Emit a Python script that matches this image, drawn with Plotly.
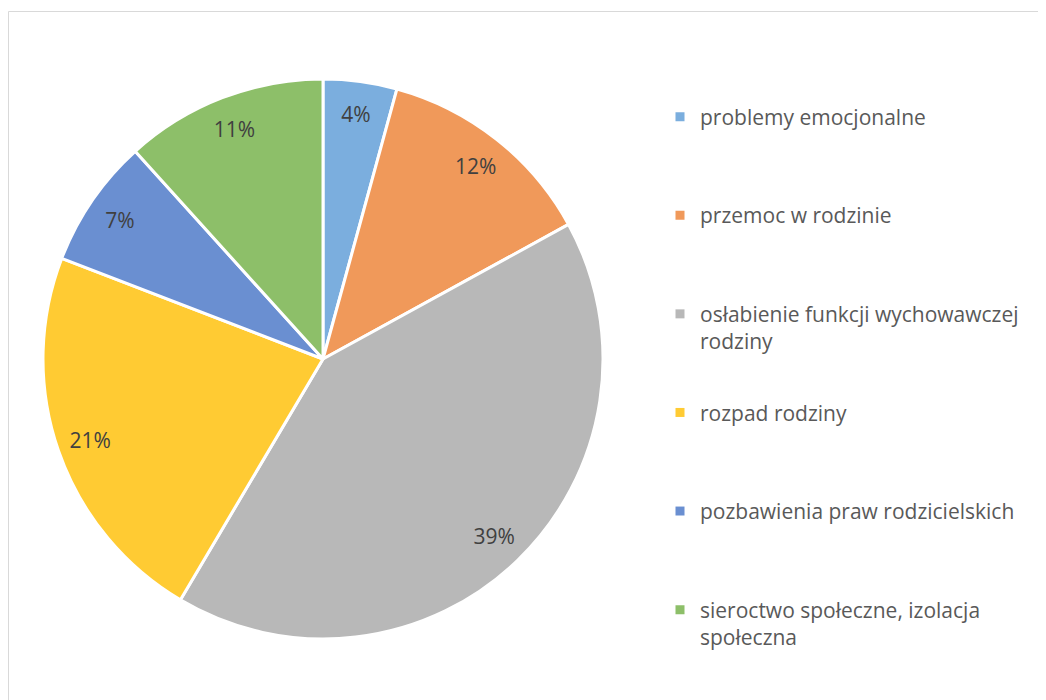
import plotly.graph_objects as go

categories = [
    "problemy emocjonalne",
    "przemoc w rodzinie",
    "osłabienie funkcji wychowawczej<br>rodziny",
    "rozpad rodziny",
    "pozbawienia praw rodzicielskich",
    "sieroctwo społeczne, izolacja<br>społeczna",
]
values = [4, 12, 39, 21, 7, 11]
colors = ["#7BAEDE", "#F0995A", "#B8B8B8", "#FFCB33", "#6A8FD1", "#8DBF69"]

# figure sits inside the page's default 8px body margin
W, H = 1038, 692
OFF = 8


def px_x(x):
    return (x - OFF) / W


def px_y(y):
    return 1 - (y - OFF) / H


pie_domain = dict(x=[px_x(43), px_x(603)], y=[px_y(639), px_y(79)])

fig = go.Figure()
fig.add_trace(
    go.Pie(
        labels=categories,
        values=values,
        sort=False,
        direction="clockwise",
        rotation=0,
        marker=dict(colors=colors, line=dict(color="white", width=3)),
        textinfo="none",
        hoverinfo="skip",
        showlegend=False,
        domain=pie_domain,
    )
)
# transparent ring carrying the value labels near the rim, like the original
fig.add_trace(
    go.Pie(
        labels=categories,
        values=values,
        sort=False,
        direction="clockwise",
        rotation=0,
        hole=0.76,
        marker=dict(colors=["rgba(0,0,0,0)"] * len(values), line=dict(width=0)),
        texttemplate="%{value}%",
        textposition="inside",
        insidetextorientation="horizontal",
        textfont=dict(family="Open Sans", size=21, color="#404040"),
        hoverinfo="skip",
        showlegend=False,
        domain=pie_domain,
    )
)

# legend entries (one group each so they can be spaced evenly)
for i, (c, col) in enumerate(zip(categories, colors)):
    n = c.count("<br>") + 1
    fig.add_trace(
        go.Scatter(
            x=[None],
            y=[None],
            mode="markers",
            marker=dict(symbol="square", size=9, color=col),
            name=c + "<br>\u00a0" * (2 - n),
            legendgroup="g%d" % i,
            hoverinfo="skip",
        )
    )

fig.update_layout(
    width=W,
    height=H,
    margin=dict(l=0, r=0, t=0, b=0),
    paper_bgcolor="white",
    plot_bgcolor="white",
    showlegend=True,
    xaxis=dict(visible=False),
    yaxis=dict(visible=False),
    legend=dict(
        x=px_x(660),
        y=px_y(96.5),
        xanchor="left",
        yanchor="top",
        valign="top",
        font=dict(family="Open Sans", size=21, color="#595959"),
        traceorder="grouped",
        tracegroupgap=41,
    ),
    shapes=[
        dict(
            type="rect",
            xref="paper",
            yref="paper",
            x0=0.5 / W,
            x1=1.2,
            y0=-0.2,
            y1=px_y(11.5),
            line=dict(color="#D9D9D9", width=1),
            fillcolor="rgba(0,0,0,0)",
            layer="below",
        )
    ],
)

fig.write_html("out.html")
